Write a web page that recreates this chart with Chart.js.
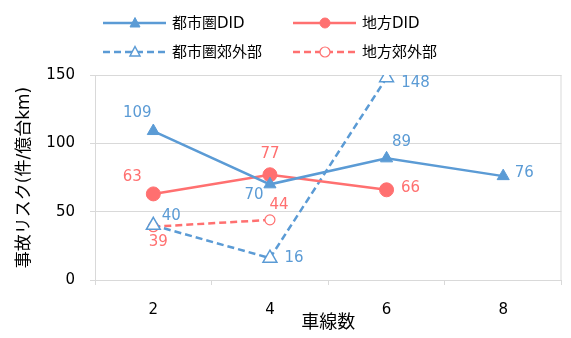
<!DOCTYPE html>
<html>
<head>
<meta charset="utf-8">
<script src="https://cdn.jsdelivr.net/npm/chart.js@4"></script>
<style>
  html, body { margin: 0; padding: 0; background: #fff; }
  #wrap { width: 571px; height: 338px; }
</style>
</head>
<body>
<div id="wrap"><canvas id="grafico" width="571" height="338"></canvas></div>
<script>
// datos
const carriles = ['2', '4', '6', '8'];
const urbanoDID = [109, 70, 89, 76];
const localDID = [63, 77, 66];
const urbanoSuburbio = [40, 16, 148];
const localSuburbio = [39, 44];
const ticksY = [0, 50, 100, 150];

const AZUL = '#5B9BD5';
const ROJO = '#FF7070';
const FUENTE = "'DejaVu Sans', 'Noto Sans CJK JP', sans-serif";

// desplazamiento de cada etiqueta respecto a su punto (dx, dy)
const posEtiquetas = [
  [[-16, -18], [-16, 11], [15, -16], [21, -3]],
  [[-21, -17], [0, -21], [24, -2]],
  [[18, -9], [24, 0], [29, 5]],
  [[5, 15], [9, -15]]
];

const etiquetasPlugin = {
  id: 'etiquetas',
  afterDatasetsDraw(chart) {
    const ctx = chart.ctx;
    ctx.save();
    ctx.font = '15px ' + FUENTE;
    ctx.textAlign = 'center';
    ctx.textBaseline = 'middle';
    chart.data.datasets.forEach((ds, i) => {
      const meta = chart.getDatasetMeta(i);
      ctx.fillStyle = ds.borderColor;
      meta.data.forEach((pt, j) => {
        const off = posEtiquetas[i][j];
        ctx.fillText(String(ds.data[j]), pt.x + off[0], pt.y + off[1]);
      });
    });
    ctx.restore();
  }
};

// marco del área de trazado
const marcoPlugin = {
  id: 'marco',
  beforeDatasetsDraw(chart) {
    const a = chart.chartArea;
    const ctx = chart.ctx;
    ctx.save();
    ctx.strokeStyle = '#D9D9D9';
    ctx.lineWidth = 1;
    ctx.strokeRect(a.left + 0.5, a.top + 0.5, a.right - a.left - 1, a.bottom - a.top);
    ctx.restore();
  }
};

// leyenda con línea + marcador, 2x2
const leyendaPlugin = {
  id: 'leyendaPropia',
  afterDraw(chart) {
    const ctx = chart.ctx;
    const cols = [103, 293];
    const filas = [23, 52];
    ctx.save();
    chart.data.datasets.forEach((ds, i) => {
      const x = cols[i % 2];
      const y = filas[Math.floor(i / 2)];
      ctx.strokeStyle = ds.borderColor;
      ctx.lineWidth = 2.5;
      ctx.setLineDash(ds.borderDash || []);
      ctx.beginPath();
      ctx.moveTo(x, y);
      ctx.lineTo(x + 63, y);
      ctx.stroke();
      ctx.setLineDash([]);
      ctx.fillStyle = ds.pointBackgroundColor;
      ctx.lineWidth = ds.pointBorderWidth;
      ctx.beginPath();
      if (ds.pointStyle === 'circle') {
        ctx.arc(x + 32, y, 5, 0, Math.PI * 2);
      } else {
        ctx.moveTo(x + 32, y - 5.5);
        ctx.lineTo(x + 37, y + 4);
        ctx.lineTo(x + 27, y + 4);
        ctx.closePath();
      }
      ctx.fill();
      ctx.stroke();
      ctx.fillStyle = '#000';
      ctx.font = '15px ' + FUENTE;
      ctx.textAlign = 'left';
      ctx.textBaseline = 'middle';
      ctx.fillText(ds.label, x + 69, y + 1);
    });
    ctx.restore();
  }
};

new Chart(document.getElementById('grafico'), {
  type: 'line',
  data: {
    labels: carriles,
    datasets: [
      {
        label: '都市圏DID', data: urbanoDID,
        borderColor: AZUL, borderWidth: 2.5,
        pointStyle: 'triangle', pointRadius: 7,
        pointBackgroundColor: AZUL, pointBorderColor: AZUL, pointBorderWidth: 1
      },
      {
        label: '地方DID', data: localDID,
        borderColor: ROJO, borderWidth: 2.5,
        pointStyle: 'circle', pointRadius: 7,
        pointBackgroundColor: ROJO, pointBorderColor: ROJO, pointBorderWidth: 1
      },
      {
        label: '都市圏郊外部', data: urbanoSuburbio,
        borderColor: AZUL, borderWidth: 2.5, borderDash: [7, 4],
        pointStyle: 'triangle', pointRadius: 8,
        pointBackgroundColor: '#fff', pointBorderColor: AZUL, pointBorderWidth: 1.5
      },
      {
        label: '地方郊外部', data: localSuburbio,
        borderColor: ROJO, borderWidth: 2.5, borderDash: [7, 4],
        pointStyle: 'circle', pointRadius: 5,
        pointBackgroundColor: '#fff', pointBorderColor: ROJO, pointBorderWidth: 1.2
      }
    ]
  },
  options: {
    responsive: false,
    animation: false,
    layout: { padding: { top: 75, right: 2, left: 0, bottom: 0 } },
    plugins: {
      legend: { display: false },
      tooltip: { enabled: false }
    },
    scales: {
      x: {
        offset: true,
        grid: { offset: true, drawOnChartArea: false, tickLength: 5, color: '#D9D9D9' },
        border: { color: '#D9D9D9' },
        ticks: { color: '#000', padding: 16, font: { family: FUENTE, size: 15 } },
        title: {
          display: true, text: '車線数', color: '#000',
          font: { family: FUENTE, size: 18 }, padding: { top: 0, bottom: 4 }
        },
        afterFit(scale) { scale.height = 58; }
      },
      y: {
        min: 0, max: 150,
        afterBuildTicks(scale) { scale.ticks = ticksY.map(v => ({ value: v })); },
        grid: { color: '#D9D9D9', tickLength: 5 },
        border: { color: '#D9D9D9' },
        ticks: { color: '#000', padding: 15, font: { family: FUENTE, size: 15 } },
        title: {
          display: true, text: '事故リスク(件/億台km)', color: '#000',
          font: { family: FUENTE, size: 17 }, padding: { top: 14, bottom: 0 }
        },
        afterFit(scale) { scale.width = 95; }
      }
    }
  },
  plugins: [marcoPlugin, etiquetasPlugin, leyendaPlugin]
});
</script>
</body>
</html>
